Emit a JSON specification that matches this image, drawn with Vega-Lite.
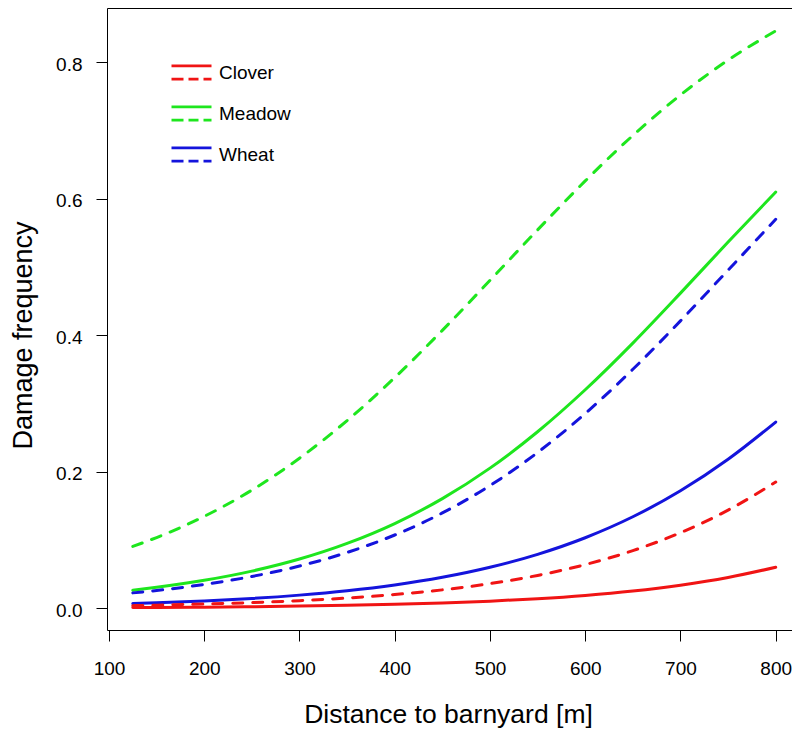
{
  "$schema": "https://vega.github.io/schema/vega-lite/v6.json",
  "width": 685,
  "height": 622,
  "autosize": {"type": "none"},
  "padding": {"left": 107, "top": 8, "right": 0, "bottom": 101},
  "background": "white",
  "config": {
    "font": "Liberation Sans",
    "view": {"stroke": null},
    "axis": {"grid": false, "domainColor": "#000000", "tickColor": "#000000", "labelColor": "#000000", "titleColor": "#000000", "titleFontWeight": "normal", "labelFlush": false, "labelOverlap": false}
  },
  "data": {
    "values": [
      {"distance": 125, "freq": 0.0011, "crop": "Clover", "line": "solid"},
      {"distance": 150, "freq": 0.0013, "crop": "Clover", "line": "solid"},
      {"distance": 200, "freq": 0.0017, "crop": "Clover", "line": "solid"},
      {"distance": 250, "freq": 0.0024, "crop": "Clover", "line": "solid"},
      {"distance": 300, "freq": 0.0032, "crop": "Clover", "line": "solid"},
      {"distance": 350, "freq": 0.0043, "crop": "Clover", "line": "solid"},
      {"distance": 400, "freq": 0.0058, "crop": "Clover", "line": "solid"},
      {"distance": 450, "freq": 0.0078, "crop": "Clover", "line": "solid"},
      {"distance": 500, "freq": 0.0105, "crop": "Clover", "line": "solid"},
      {"distance": 550, "freq": 0.0141, "crop": "Clover", "line": "solid"},
      {"distance": 600, "freq": 0.0189, "crop": "Clover", "line": "solid"},
      {"distance": 650, "freq": 0.0253, "crop": "Clover", "line": "solid"},
      {"distance": 700, "freq": 0.0339, "crop": "Clover", "line": "solid"},
      {"distance": 750, "freq": 0.0452, "crop": "Clover", "line": "solid"},
      {"distance": 800, "freq": 0.0601, "crop": "Clover", "line": "solid"},
      {"distance": 125, "freq": 0.0039, "crop": "Clover", "line": "dashed"},
      {"distance": 150, "freq": 0.0046, "crop": "Clover", "line": "dashed"},
      {"distance": 200, "freq": 0.0062, "crop": "Clover", "line": "dashed"},
      {"distance": 250, "freq": 0.0083, "crop": "Clover", "line": "dashed"},
      {"distance": 300, "freq": 0.0112, "crop": "Clover", "line": "dashed"},
      {"distance": 350, "freq": 0.0150, "crop": "Clover", "line": "dashed"},
      {"distance": 400, "freq": 0.0202, "crop": "Clover", "line": "dashed"},
      {"distance": 450, "freq": 0.0270, "crop": "Clover", "line": "dashed"},
      {"distance": 500, "freq": 0.0362, "crop": "Clover", "line": "dashed"},
      {"distance": 550, "freq": 0.0482, "crop": "Clover", "line": "dashed"},
      {"distance": 600, "freq": 0.0640, "crop": "Clover", "line": "dashed"},
      {"distance": 650, "freq": 0.0845, "crop": "Clover", "line": "dashed"},
      {"distance": 700, "freq": 0.1108, "crop": "Clover", "line": "dashed"},
      {"distance": 750, "freq": 0.1439, "crop": "Clover", "line": "dashed"},
      {"distance": 800, "freq": 0.1850, "crop": "Clover", "line": "dashed"},
      {"distance": 125, "freq": 0.0265, "crop": "Meadow", "line": "solid"},
      {"distance": 150, "freq": 0.0307, "crop": "Meadow", "line": "solid"},
      {"distance": 200, "freq": 0.0410, "crop": "Meadow", "line": "solid"},
      {"distance": 250, "freq": 0.0545, "crop": "Meadow", "line": "solid"},
      {"distance": 300, "freq": 0.0722, "crop": "Meadow", "line": "solid"},
      {"distance": 350, "freq": 0.0951, "crop": "Meadow", "line": "solid"},
      {"distance": 400, "freq": 0.1242, "crop": "Meadow", "line": "solid"},
      {"distance": 450, "freq": 0.1607, "crop": "Meadow", "line": "solid"},
      {"distance": 500, "freq": 0.2054, "crop": "Meadow", "line": "solid"},
      {"distance": 550, "freq": 0.2587, "crop": "Meadow", "line": "solid"},
      {"distance": 600, "freq": 0.3202, "crop": "Meadow", "line": "solid"},
      {"distance": 650, "freq": 0.3886, "crop": "Meadow", "line": "solid"},
      {"distance": 700, "freq": 0.4618, "crop": "Meadow", "line": "solid"},
      {"distance": 750, "freq": 0.5367, "crop": "Meadow", "line": "solid"},
      {"distance": 800, "freq": 0.6099, "crop": "Meadow", "line": "solid"},
      {"distance": 125, "freq": 0.0907, "crop": "Meadow", "line": "dashed"},
      {"distance": 150, "freq": 0.1037, "crop": "Meadow", "line": "dashed"},
      {"distance": 200, "freq": 0.1347, "crop": "Meadow", "line": "dashed"},
      {"distance": 250, "freq": 0.1732, "crop": "Meadow", "line": "dashed"},
      {"distance": 300, "freq": 0.2199, "crop": "Meadow", "line": "dashed"},
      {"distance": 350, "freq": 0.2751, "crop": "Meadow", "line": "dashed"},
      {"distance": 400, "freq": 0.3381, "crop": "Meadow", "line": "dashed"},
      {"distance": 450, "freq": 0.4073, "crop": "Meadow", "line": "dashed"},
      {"distance": 500, "freq": 0.4805, "crop": "Meadow", "line": "dashed"},
      {"distance": 550, "freq": 0.5545, "crop": "Meadow", "line": "dashed"},
      {"distance": 600, "freq": 0.6262, "crop": "Meadow", "line": "dashed"},
      {"distance": 650, "freq": 0.6928, "crop": "Meadow", "line": "dashed"},
      {"distance": 700, "freq": 0.7521, "crop": "Meadow", "line": "dashed"},
      {"distance": 750, "freq": 0.8033, "crop": "Meadow", "line": "dashed"},
      {"distance": 800, "freq": 0.8461, "crop": "Meadow", "line": "dashed"},
      {"distance": 125, "freq": 0.0069, "crop": "Wheat", "line": "solid"},
      {"distance": 150, "freq": 0.0080, "crop": "Wheat", "line": "solid"},
      {"distance": 200, "freq": 0.0108, "crop": "Wheat", "line": "solid"},
      {"distance": 250, "freq": 0.0144, "crop": "Wheat", "line": "solid"},
      {"distance": 300, "freq": 0.0193, "crop": "Wheat", "line": "solid"},
      {"distance": 350, "freq": 0.0257, "crop": "Wheat", "line": "solid"},
      {"distance": 400, "freq": 0.0342, "crop": "Wheat", "line": "solid"},
      {"distance": 450, "freq": 0.0454, "crop": "Wheat", "line": "solid"},
      {"distance": 500, "freq": 0.0601, "crop": "Wheat", "line": "solid"},
      {"distance": 550, "freq": 0.0791, "crop": "Wheat", "line": "solid"},
      {"distance": 600, "freq": 0.1034, "crop": "Wheat", "line": "solid"},
      {"distance": 650, "freq": 0.1341, "crop": "Wheat", "line": "solid"},
      {"distance": 700, "freq": 0.1722, "crop": "Wheat", "line": "solid"},
      {"distance": 750, "freq": 0.2184, "crop": "Wheat", "line": "solid"},
      {"distance": 800, "freq": 0.2729, "crop": "Wheat", "line": "solid"},
      {"distance": 125, "freq": 0.0226, "crop": "Wheat", "line": "dashed"},
      {"distance": 150, "freq": 0.0261, "crop": "Wheat", "line": "dashed"},
      {"distance": 200, "freq": 0.0350, "crop": "Wheat", "line": "dashed"},
      {"distance": 250, "freq": 0.0466, "crop": "Wheat", "line": "dashed"},
      {"distance": 300, "freq": 0.0619, "crop": "Wheat", "line": "dashed"},
      {"distance": 350, "freq": 0.0818, "crop": "Wheat", "line": "dashed"},
      {"distance": 400, "freq": 0.1074, "crop": "Wheat", "line": "dashed"},
      {"distance": 450, "freq": 0.1397, "crop": "Wheat", "line": "dashed"},
      {"distance": 500, "freq": 0.1798, "crop": "Wheat", "line": "dashed"},
      {"distance": 550, "freq": 0.2283, "crop": "Wheat", "line": "dashed"},
      {"distance": 600, "freq": 0.2854, "crop": "Wheat", "line": "dashed"},
      {"distance": 650, "freq": 0.3502, "crop": "Wheat", "line": "dashed"},
      {"distance": 700, "freq": 0.4212, "crop": "Wheat", "line": "dashed"},
      {"distance": 750, "freq": 0.4955, "crop": "Wheat", "line": "dashed"},
      {"distance": 800, "freq": 0.5700, "crop": "Wheat", "line": "dashed"}
    ]
  },
  "encoding": {
    "y": {
      "field": "freq",
      "type": "quantitative",
      "scale": {"domain": [-0.0318, 0.8796], "nice": false, "zero": false},
      "axis": {
        "values": [0, 0.2, 0.4, 0.6, 0.8],
        "format": ".1f",
        "tickSize": 11,
        "labelPadding": 14,
        "labelFontSize": 19,
        "labelOffset": 2,
        "title": "Damage frequency",
        "titleFontSize": 27,
        "titleAngle": 270,
        "titleAlign": "center",
        "titleBaseline": "alphabetic",
        "titleX": -76,
        "titleY": 327
      }
    }
  },
  "layer": [
    {
      "transform": [{"filter": "datum.line === 'solid'"}],
      "mark": {"type": "line", "strokeWidth": 3, "strokeCap": "round", "interpolate": "monotone"},
      "encoding": {
        "x": {
          "field": "distance",
          "type": "quantitative",
          "scale": {"domain": [97.9, 817.1], "nice": false, "zero": false},
          "axis": {
            "orient": "bottom",
            "values": [100, 200, 300, 400, 500, 600, 700, 800],
            "tickSize": 11,
            "labelPadding": 18,
            "labelFontSize": 19,
            "title": "Distance to barnyard [m]",
            "titleFontSize": 26.5,
            "titleBaseline": "alphabetic",
            "titleX": 341,
            "titleY": 92
          }
        },
        "color": {
          "field": "crop",
          "type": "nominal",
          "scale": {"domain": ["Clover", "Meadow", "Wheat"], "range": ["#f01414", "#1ee61e", "#1414dc"]},
          "legend": {
            "orient": "none",
            "legendX": 63,
            "legendY": 43,
            "title": null,
            "padding": 0,
            "symbolType": "M-1,-0.33H1M-1,0.33H-0.4M-0.15,0.33H0.35M0.6,0.33H1",
            "symbolSize": 1600,
            "symbolStrokeWidth": 2.7,
            "labelFontSize": 19,
            "labelColor": "#000000",
            "labelOffset": 6,
            "rowPadding": 7
          }
        }
      }
    },
    {
      "transform": [{"filter": "datum.line === 'dashed'"}],
      "mark": {"type": "line", "strokeWidth": 3, "strokeCap": "round", "strokeDash": [10, 10], "interpolate": "monotone"},
      "encoding": {
        "x": {
          "field": "distance",
          "type": "quantitative",
          "scale": {"domain": [97.9, 817.1], "nice": false, "zero": false},
          "axis": {
            "orient": "top",
            "ticks": false,
            "labels": false,
            "title": null,
            "domain": true
          }
        },
        "color": {
          "field": "crop",
          "type": "nominal",
          "scale": {"domain": ["Clover", "Meadow", "Wheat"], "range": ["#f01414", "#1ee61e", "#1414dc"]},
          "legend": null
        }
      }
    }
  ]
}
